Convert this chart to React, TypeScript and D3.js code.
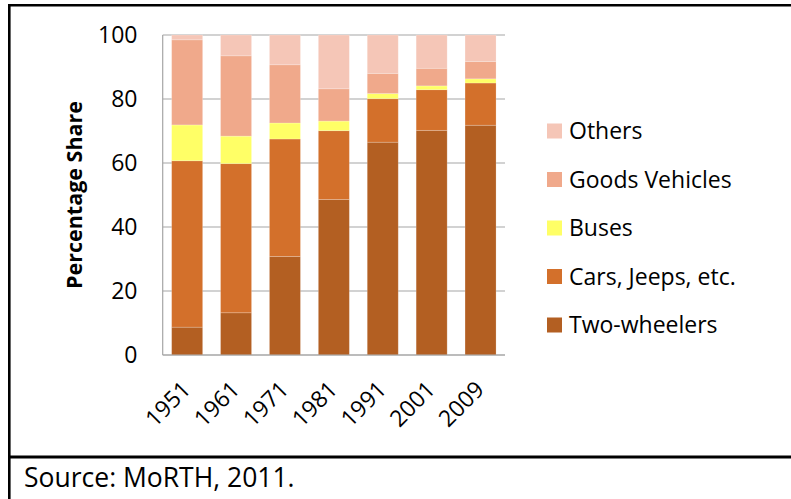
import React from "react";
import * as d3 from "d3";

const years = ["1951", "1961", "1971", "1981", "1991", "2001", "2009"];
const twoWheelers = [8.7, 13.2, 30.8, 48.6, 66.5, 70.2, 71.8];
const cars = [52.0, 46.6, 36.7, 21.5, 13.6, 12.7, 13.2];
const buses = [11.2, 8.6, 5.0, 3.0, 1.6, 1.2, 1.3];
const goods = [26.6, 25.1, 18.2, 10.1, 6.3, 5.5, 5.4];
const others = [1.5, 6.5, 9.3, 16.8, 12.0, 10.4, 8.3];
const seriesNames = ["Two-wheelers", "Cars, Jeeps, etc.", "Buses", "Goods Vehicles", "Others"];
const seriesColors = ["#B35F22", "#D3702B", "#FFFF66", "#F0A98B", "#F5C6B7"];
const yTicks = [0, 20, 40, 60, 80, 100];

const W = 791;
const H = 499;
const plot = { left: 162.7, right: 505, top: 35, bottom: 355 };
const FONT = "'Open Sans', sans-serif";

export default function App() {
  const seriesValues = [twoWheelers, cars, buses, goods, others];
  const rows = years.map((y, i) => {
    const r: any = { year: y };
    seriesNames.forEach((n, s) => (r[n] = seriesValues[s][i]));
    return r;
  });
  const stack = d3.stack<any>().keys(seriesNames)(rows);

  const x = d3
    .scaleBand<string>()
    .domain(years)
    .range([plot.left, plot.right])
    .paddingInner(0.366)
    .paddingOuter(0.183);
  const y = d3.scaleLinear().domain([0, 100]).range([plot.bottom, plot.top]);

  const legendOrder = [4, 3, 2, 1, 0];

  return (
    <svg
      width={W}
      height={H}
      style={{ position: "absolute", left: 0, top: 0, background: "#fff" }}
      fontFamily={FONT}
    >
      {/* frame lines */}
      <line x1={9.3} x2={9.3} y1={4} y2={H} stroke="#000" strokeWidth={2.6} />
      <line x1={8} x2={W} y1={5.2} y2={5.2} stroke="#000" strokeWidth={2.4} />
      <line x1={8} x2={W} y1={457} y2={457} stroke="#000" strokeWidth={3} />

      {/* gridlines */}
      {yTicks.map((t) => (
        <line
          key={t}
          x1={plot.left}
          x2={plot.right}
          y1={y(t)}
          y2={y(t)}
          stroke="#A6A6A6"
          strokeWidth={1.2}
        />
      ))}
      <line x1={plot.left} x2={plot.left} y1={plot.top} y2={plot.bottom} stroke="#A6A6A6" strokeWidth={1.2} />

      {/* bars */}
      {stack.map((layer, s) =>
        layer.map((d, i) => (
          <rect
            key={s + "-" + i}
            x={x(years[i])}
            width={x.bandwidth()}
            y={y(d[1])}
            height={y(d[0]) - y(d[1])}
            fill={seriesColors[s]}
            stroke="rgba(255,255,255,0.25)"
            strokeWidth={0.8}
          />
        ))
      )}
      <line x1={plot.left} x2={plot.right} y1={plot.bottom} y2={plot.bottom} stroke="#A6A6A6" strokeWidth={1.2} />

      {/* y tick labels */}
      {yTicks.map((t) => (
        <text key={t} x={137.5} y={y(t)} dy="0.36em" textAnchor="end" fontSize={23} fill="#000">
          {t}
        </text>
      ))}

      {/* y title */}
      <text
        transform={`translate(82,${(plot.top + plot.bottom) / 2}) rotate(-90)`}
        textAnchor="middle"
        fontSize={21.5}
        fontWeight="bold"
        fill="#000"
      >
        Percentage Share
      </text>

      {/* x labels */}
      {years.map((yr) => (
        <text
          key={yr}
          transform={`translate(${(x(yr) as number) + x.bandwidth() / 2 + 5},${plot.bottom + 36}) rotate(-45)`}
          textAnchor="end"
          fontSize={23}
          fill="#000"
        >
          {yr}
        </text>
      ))}

      {/* legend */}
      {legendOrder.map((s, k) => {
        const cy = 131 + k * 48.5;
        return (
          <g key={s}>
            <rect x={547} y={cy - 7.5} width={15} height={15} fill={seriesColors[s]} />
            <text x={569} y={cy} dy="0.36em" fontSize={23} fill="#000">
              {seriesNames[s]}
            </text>
          </g>
        );
      })}

      {/* source */}
      <text x={24} y={487} fontSize={26.5} fill="#000">
        Source: MoRTH, 2011.
      </text>
    </svg>
  );
}
